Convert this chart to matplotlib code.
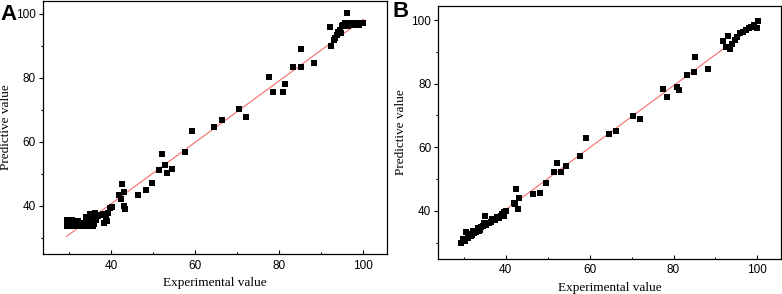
import numpy as np
import matplotlib.pyplot as plt
from matplotlib.ticker import MultipleLocator

# panel A: experimental vs predictive
a_exp = [29.4, 29.4, 30.6, 30.6, 31.2, 31.8, 32.2, 33.0, 33.5, 34.0, 34.2, 34.5,
         35.0, 35.2, 35.5, 35.8, 36.2, 36.5, 37.0, 37.4, 38.0, 38.2, 38.8, 39.0,
         39.3, 39.8, 40.2, 42.0, 42.3, 42.5, 43.1, 43.1, 43.3, 46.4, 48.3, 49.8,
         51.4, 52.1, 52.9, 53.3, 54.5, 57.6, 59.2, 64.6, 66.4, 70.5, 72.1, 77.5,
         78.6, 81.0, 81.4, 83.3, 85.2, 85.2, 88.3, 92.1, 92.4, 93.0, 93.3, 93.7,
         94.1, 94.5, 94.8, 95.0, 95.3, 95.8, 96.1, 96.3, 96.5, 96.8, 97.2, 97.6,
         98.0, 98.5, 99.0, 99.5, 100.0, 30.0, 32.6, 34.8, 36.0]
a_pred = [33.7, 35.6, 33.7, 35.6, 34.5, 33.7, 35.2, 33.7, 34.5, 36.5, 33.7, 35.0,
          37.5, 34.0, 36.0, 33.8, 37.8, 35.5, 36.8, 37.2, 37.5, 34.6, 36.0, 35.2,
          37.8, 39.4, 39.6, 43.3, 42.0, 46.9, 44.3, 39.8, 38.9, 43.3, 45.0, 47.2,
          51.3, 56.3, 52.6, 50.2, 51.6, 56.8, 63.4, 64.7, 66.7, 70.3, 67.7, 80.2,
          75.4, 75.4, 78.1, 83.2, 83.2, 88.9, 84.6, 95.9, 90.0, 91.8, 92.5, 93.3,
          94.4, 95.0, 94.0, 96.0, 96.5, 97.2, 100.1, 96.8, 96.0, 97.2, 96.4, 97.2,
          96.6, 97.0, 96.5, 97.2, 97.0, 34.6, 33.7, 33.7, 34.4]
a_fit_x = [29.4, 100.1]
a_fit_y = [30.4, 98.3]

# panel B
b_exp = [29.4, 29.8, 30.2, 30.5, 30.9, 31.3, 31.6, 32.0, 32.2, 32.5, 33.0, 33.4,
         33.6, 33.8, 34.2, 34.6, 34.8, 35.0, 35.2, 35.6, 36.0, 36.5, 36.8, 37.0,
         37.5, 38.0, 38.4, 38.8, 39.2, 39.5, 39.6, 40.0, 42.0, 42.3, 42.5, 43.0,
         43.2, 46.4, 48.2, 49.7, 51.5, 52.2, 53.1, 54.3, 57.6, 59.1, 64.5, 66.3,
         70.4, 72.0, 77.4, 78.5, 80.8, 81.3, 83.2, 85.0, 85.1, 88.2, 91.8, 92.6,
         93.0, 93.4, 94.0, 94.6, 95.2, 95.8, 96.5, 97.4, 98.0, 98.6, 99.3, 99.8,
         100.1]
b_pred = [29.9, 31.0, 30.6, 33.2, 31.5, 32.8, 32.0, 32.4, 33.6, 33.0, 33.3, 34.6,
          33.5, 34.0, 34.8, 35.3, 36.2, 38.3, 35.6, 36.0, 36.3, 36.5, 37.5, 37.3,
          37.0, 38.0, 37.6, 38.5, 39.0, 39.5, 38.2, 40.0, 42.4, 42.0, 46.8, 40.4,
          44.1, 45.2, 45.7, 48.7, 52.2, 55.0, 52.2, 54.1, 57.2, 62.8, 64.2, 65.2,
          69.9, 69.0, 78.3, 75.8, 79.0, 77.9, 82.9, 83.7, 88.4, 84.5, 93.3, 91.7,
          94.9, 90.9, 92.5, 93.8, 94.8, 96.0, 96.2, 97.0, 97.6, 98.0, 98.4, 97.5,
          99.6]
b_fit_x = [29.3, 100.0]
b_fit_y = [29.9, 98.9]

plt.rcParams['font.family'] = ['Liberation Sans', 'DejaVu Sans']

fig = plt.figure(figsize=(7.82, 2.94), dpi=100)
ax_a = fig.add_axes([0.055, 0.136, 0.440, 0.861])
ax_b = fig.add_axes([0.5605, 0.120, 0.438, 0.861])

panels = [
    (ax_a, a_exp, a_pred, a_fit_x, a_fit_y, (23.8, 105.7), (24.9, 104.0)),
    (ax_b, b_exp, b_pred, b_fit_x, b_fit_y, (23.9, 105.6), (24.9, 104.6)),
]

for ax, xs, ys, fx, fy, xl, yl in panels:
    ax.scatter(xs, ys, marker='s', s=22, color='black', linewidths=0, zorder=3)
    ax.plot(fx, fy, color='#f26b6b', linewidth=0.8, zorder=2)
    ax.set_xlim(*xl)
    ax.set_ylim(*yl)

    ax.xaxis.set_major_locator(MultipleLocator(20))
    ax.xaxis.set_minor_locator(MultipleLocator(10))
    ax.yaxis.set_major_locator(MultipleLocator(20))
    ax.yaxis.set_minor_locator(MultipleLocator(10))

    ax.tick_params(axis='x', which='major', direction='in', length=3, width=0.8,
                   labelsize=8.5, pad=4)
    ax.tick_params(axis='x', which='minor', direction='in', length=1.8, width=0.8)
    ax.tick_params(axis='y', which='major', direction='out', length=3, width=0.8,
                   labelsize=8.5, pad=2)
    ax.tick_params(axis='y', which='minor', direction='out', length=1.8, width=0.8)
    for sp in ax.spines.values():
        sp.set_linewidth(0.9)

    ax.set_xlabel('Experimental value', family='Liberation Serif', size=9.5, labelpad=4)
    ax.set_ylabel('Predictive value', family='Liberation Serif', size=9.5, labelpad=3)

fig.text(0.001, 0.95, 'A', fontsize=16, fontweight='bold', ha='left', va='center')
fig.text(0.502, 0.962, 'B', fontsize=16, fontweight='bold', ha='left', va='center')

fig.savefig('out.png', dpi=100)
